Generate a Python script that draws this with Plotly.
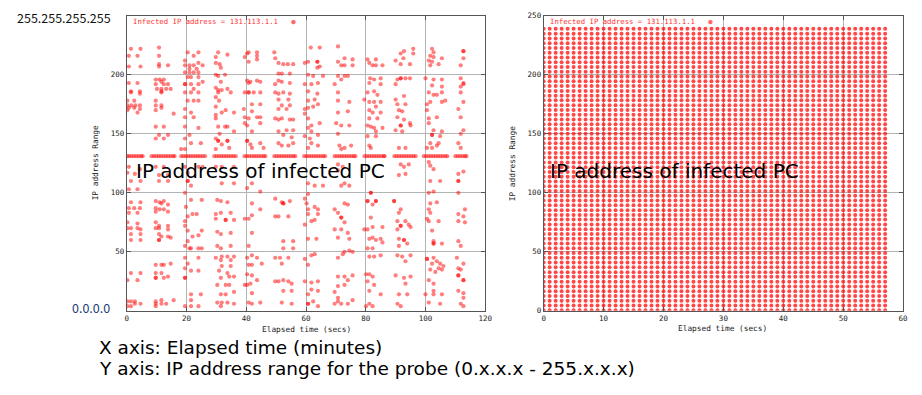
import plotly.graph_objects as go

# ---------------- data ----------------
INFECTED_OCTET = 131

# left panel: probes of a scanning worm, grouped in 10-second bursts (x = secs, y = first octet)
band1 = [(1.4,222),(4.6,222),(0.7,216),(3.6,216),(0.7,207),(4.6,207),(0.7,193),(3.6,193),(1.4,186),(4.4,186),
         (1.4,185),(4.4,184),(0.2,178),(2.5,178),(0.2,174),(1.5,174),(2.9,174),(4.4,174),(0.2,170),(0.7,172),
         (2.5,172),(4.4,171),(3.6,168),(0.7,122),(4.4,120),(0.2,117),(2.7,116),(1.4,110),(4.6,110),(0.7,103),
         (3.6,103),(1.4,92),(4.6,92),(0.7,87),(2.5,87),(4.4,87),(0.7,83),(3.6,83),(0.2,75),(3.6,74),(0.2,70),
         (1.4,70),(3.6,70),(4.6,69),(1.4,65),(4.6,65),(1.4,60),(4.6,60),(0.2,26),(1.4,32),(4.6,32),(3.6,26),
         (0.2,8),(1.4,8),(2.7,8),(4.6,6),(0.2,4),(1.4,4),(2.7,6)]
band2 = [(10.8,223),(10.8,216),(10.8,209),(13.8,208),(10.8,207),(9.7,196),(11,196),(12.4,196),(11.6,194),(9.7,192),
         (12.4,192),(13.8,192),(10.1,188),(11.6,188),(13.2,188),(14.7,188),(11.6,186),(11.6,185),(9.7,178),(11.6,174),
         (9.7,174),(11.6,172),(9.7,170),(15.7,167),(9.7,156),(12.4,156),(10.8,149),(13.8,149),(9.7,146),(12.4,146),
         (9.7,122),(12.4,122),(10.8,115),(13.8,115),(10.8,110),(13.8,110),(9.7,93),(11,92),(12.4,93),(11.6,91),
         (13.8,90),(9.7,87),(11,86),(12.4,86),(9.7,84),(13.8,84),(9.7,75),(10.8,72),(13.8,72),(9.7,70),(10.8,70),
         (13.8,69),(10.8,65),(11.6,63),(13.8,63),(14.7,62),(10.8,60),(10.8,60),(9.7,39),(11.6,39),(12.4,39),(14.7,40),
         (9.7,32),(11.6,32),(9.7,28),(9.7,28),(12.4,28),(13.8,29),(9.7,8),(11.6,9),(11.6,6),(9.7,6),(13.2,6),
         (15.7,9),(9.7,4)]
band3 = [(20.4,219),(22.4,216),(24,219),(19.5,212),(19.5,208),(21,208),(22.4,208),(24,210),(25.4,208),(21,205),
         (23.4,205),(19.5,202),(21,202),(22.4,202),(24,202),(20.4,198),(21.5,198),(24,198),(25.4,194),(19.5,192),
         (19.5,192),(21.5,192),(22.4,188),(24,192),(19.5,185),(21.5,185),(24,185),(20.4,178),(22.4,178),(24,178),
         (19.5,171),(21.5,168),(22.4,164),(19.5,164),(19.5,156),(24,155),(19.5,146),(21,149),(21.5,142),(24.8,142),
         (18.2,137),(19.5,137),(19.5,122),(20.4,117),(24,122),(25.4,122),(20.4,110),(20.4,110),(21.5,106),(19.5,100),
         (21.5,94),(25.1,94),(19.8,88),(22,82),(23.4,82),(20.4,80),(19.5,76),(19.5,72),(20.4,68),(22,63),(24,64),
         (25.1,68),(20.4,59),(19.5,55),(21.5,53),(24,53),(25.1,53),(21,53),(19.5,45),(24,45),(20.4,40),(19.5,36),
         (19.5,28),(19.5,28),(21.5,34),(24,34),(21.5,14),(24.8,14),(21.5,9),(19.5,4),(21.5,4),(24,4)]
band4 = [(30.6,219),(33.7,217),(29.8,215),(29.8,210),(31.1,209),(31.5,206),(29.8,200),(30.6,199),(32.9,200),(31.5,194),
         (29.8,189),(30.6,187),(31.8,187),(30.6,185),(33.7,188),(34.8,185),(29.8,181),(30.9,178),(29.8,173),(31.8,168),
         (33.1,170),(35.9,168),(29.8,166),(29.8,163),(30.6,156),(32.9,156),(35.9,152),(33.7,156),(31.1,150),(29.8,146),
         (30.6,144),(30.6,144),(33.7,144),(33.7,144),(31.8,141),(34.3,138),(29.8,137),(29.8,122),(31.8,122),(35.9,122),
         (31.8,108),(35.9,108),(30.3,94),(31.5,93),(33.7,92),(29.8,82),(31.5,83),(34.8,83),(29.8,78),(33.1,77),(33.1,77),
         (35.9,77),(30.3,67),(31.5,65),(34.8,66),(30.3,55),(31.5,53),(34.8,55),(29.8,45),(31.8,46),(33.7,46),(35.9,46),
         (31.5,43),(34.8,43),(31.8,38),(34.8,38),(30.9,34),(33.7,32),(31.5,28),(34.3,29),(35.9,29),(30.3,22),(33.1,22),
         (34.3,22),(35.9,16),(31.5,14),(33.1,14),(30.3,7),(31.8,7),(33.7,7),(35.9,6),(31.5,4)]
band5 = [(40.3,218),(40.8,219),(43.6,219),(43.6,216),(39.5,215),(43.6,213),(40.8,211),(40.3,195),(41.4,194),(43.6,195),
         (44.7,194),(40.8,193),(39.5,185),(40.8,185),(40.8,185),(42.5,185),(44.7,185),(41.9,175),(44.7,175),(39.2,171),
         (41.9,169),(39.5,164),(40.8,163),(43.6,164),(44.7,164),(39.5,159),(40.3,157),(41.9,152),(44.7,159),(40.3,144),
         (40.3,144),(41.4,141),(41.9,138),(44.7,142),(45.8,138),(41.9,108),(40.3,104),(44.7,101),(41.9,91),(39.5,78),
         (41.9,81),(40.8,78),(44.7,86),(41.9,66),(40.8,55),(41.9,47),(40.3,45),(43.6,45),(40.8,39),(41.9,39),(45.2,40),
         (40.3,31),(41.9,30),(40.3,22),(41.4,23),(43.6,26),(39.5,22),(41.9,15),(40.8,7),(41.9,6),(44.7,7)]
band6 = [(49.4,219),(49.7,214),(50.8,210),(52.4,209),(53.9,209),(55.7,209),(50.8,201),(51.9,201),(54.6,201),(50.8,195),
         (51.9,194),(49.7,192),(54.6,193),(49.7,185),(50.8,184),(52.4,185),(54.6,184),(50.8,179),(54.1,179),(51.9,174),
         (54.6,174),(50.8,171),(53.5,171),(49.7,163),(50.8,162),(51.9,163),(54.6,162),(55.7,162),(50.8,152),(53.5,153),
         (55.7,153),(52.4,149),(55.2,147),(50.8,142),(51.9,140),(54.1,140),(55.7,142),(49.7,95),(51.9,92),(52.4,91),
         (52.4,91),(54.6,93),(49.7,80),(50.8,80),(54.1,80),(52.4,59),(55.7,59),(52.4,53),(55.7,53),(49.7,45),(51.3,45),
         (54.1,45),(51.9,40),(49.7,25),(50.8,25),(52.4,26),(54.1,25),(55.2,23),(52.4,17),(55.2,17),(51.9,7),(55.2,6)]
band7 = [(61.6,223),(64.6,223),(59.6,210),(60.7,211),(63.8,211),(63.8,211),(64.6,207),(63.8,206),(60.7,200),(62.4,199),
         (65.7,199),(59.6,192),(61.8,192),(64,193),(60.7,186),(63.8,184),(60.7,178),(62.9,179),(59.6,171),(60.7,172),
         (62.4,173),(64,175),(59.6,167),(60.7,163),(64.6,159),(61.8,157),(60.7,155),(61.8,152),(59.6,148),(61.3,146),
         (64,149),(61.8,142),(60.7,138),(64,140),(60.7,108),(62.9,106),(65.7,106),(60.7,99),(59.6,95),(60.2,91),
         (62.9,88),(60.7,86),(64,86),(60.7,82),(64,82),(61.8,76),(59.6,73),(62.9,77),(60.7,61),(63.5,61),(59.6,44),
         (61.8,47),(62.9,48),(60.7,39),(59.6,25),(61.8,24),(64,25),(61.8,18),(64,17),(60.7,14),(60.7,6),(60.7,6),
         (64,4),(62.4,8)]
band8 = [(70.7,224),(70.7,211),(72.9,214),(71.8,208),(72.9,208),(75.6,213),(75.6,208),(70.7,199),(72.9,199),(74,199),
         (71.8,196),(69.6,192),(70.7,185),(70.7,178),(74.5,177),(70.7,168),(74,169),(70.1,159),(71.8,157),(74.5,157),
         (70.7,150),(71.2,140),(72.9,138),(75.1,140),(71.8,137),(70.7,124),(72.3,122),(70.7,119),(72.9,108),(71.8,106),
         (74.5,106),(72.9,91),(69.6,86),(70.7,83),(74,90),(71.8,79),(71.8,79),(69.6,69),(71.8,69),(70.7,62),(74,66),
         (72.9,75),(74.5,61),(70.7,45),(72.3,48),(72.9,50),(74.5,51),(75.6,50),(70.7,29),(72.9,29),(75.6,30),(74,26),
         (70.7,21),(72.9,22),(69.6,16),(70.7,11),(69.6,6),(70.7,8),(71.8,6),(74,6),(75.6,9)]
band9 = [(80.6,213),(81.2,210),(82.3,208),(83.4,213),(83.4,208),(85.6,208),(81.5,197),(82.8,196),(85,197),(81.2,193),
         (85,192),(82.8,186),(80.6,185),(83.9,183),(79.5,179),(81.2,177),(82.8,177),(85,177),(83.4,173),(81.2,170),
         (82.3,168),(85,168),(81.2,163),(83.9,163),(80.6,157),(81.7,156),(82.8,155),(85.6,155),(83.4,152),(80.6,148),
         (83.4,148),(81.2,140),(81.7,138),(81.7,100),(81.7,100),(80.6,93),(80.6,93),(83.4,93),(83.4,93),(82.3,90),
         (81.7,79),(80.6,69),(79.5,69),(82.3,71),(85.6,71),(81.2,61),(82.3,62),(83.4,60),(85,61),(80.6,53),(82.3,53),
         (85.6,58),(81.2,46),(82.8,46),(85,47),(81.2,31),(80.1,31),(82.3,29),(80.6,25),(82.8,22),(81.2,17),(85,14),
         (81.2,6),(82.3,4),(80.1,4)]
band10 = [(91.7,218),(92.8,220),(95.9,222),(95.9,218),(90,212),(91.7,209),(94.8,209),(92.6,214),(91.7,197),(91.7,197),
          (90.6,196),(93.3,197),(94.8,197),(90,192),(92.8,182),(90,179),(90.6,175),(93.3,175),(91.1,170),(92.2,169),
          (90.6,164),(92.8,162),(94.8,159),(91.7,157),(91.7,157),(95,157),(90,153),(92.2,152),(91.1,138),(93.3,138),
          (91.7,124),(92.8,122),(94.4,124),(93.3,116),(91.1,115),(89.5,93),(89.5,93),(91.7,86),(91.1,83),(90.6,76),
          (91.7,72),(91.7,72),(93.3,76),(94.4,73),(95,71),(90.6,69),(91.1,61),(92.8,60),(92.8,60),(93.9,57),(91.1,55),
          (90.6,47),(92.2,46),(95,47),(93.3,42),(90,30),(92.8,28),(95,29),(93.3,23),(91.1,14),(93.9,14),(91.7,4),(90.6,6)]
band11 = [(102.2,222),(102.7,219),(101.6,216),(102.7,215),(101.1,212),(102.2,211),(105.5,214),(104.4,209),(101.6,208),
          (100,197),(102.7,196),(105.5,196),(102.2,191),(105.5,190),(101.1,185),(102.7,183),(103.8,183),(105.5,185),
          (101.6,177),(100.5,175),(106.6,178),(105.5,177),(100.5,170),(103.8,164),(101.1,163),(101.1,159),(102.7,153),
          (105.5,152),(102.2,149),(102.2,149),(104.9,148),(101.6,142),(104.4,142),(100.5,138),(102.2,138),(103.8,140),
          (101.1,126),(101.6,123),(102.7,120),(101.6,110),(104.9,110),(102.7,101),(101.1,100),(101.6,91),(103.8,92),
          (101.1,86),(101.1,76),(100.5,78),(104.4,76),(102.2,68),(101.6,83),(102.7,59),(102.7,57),(102.7,57),(105.5,57),
          (100.5,44),(100.5,44),(102.7,45),(103.8,42),(104.9,40),(106,38),(102.2,40),(104.4,36),(101.6,35),(103.3,33),
          (105.5,35),(101.1,26),(102.7,23),(102.7,17),(105.5,14),(100,14),(102.7,14),(101.1,7),(104.9,6)]
band12 = [(112.7,220),(112.7,220),(112.7,214),(111.8,208),(111.8,197),(112.7,193),(111.8,190),(112.7,192),(111.8,185),
          (112.7,177),(111,171),(111.8,164),(111.8,150),(112.7,153),(111,142),(111.8,138),(111,116),(112.7,118),
          (111,110),(111,110),(111,100),(113.2,86),(111,82),(112.7,80),(111,76),(113.2,75),(111,59),(111.8,55),
          (110.5,45),(112.7,40),(111,36),(111.8,35),(111,30),(111,30),(112.7,26),(112.7,26),(111,17),(112.7,15),
          (112.7,11),(111.8,6),(112.7,4)]

# probes that hit the infected host's own /8 (131.x.x.x) within each burst
self_probe_times = [0.2, 0.8, 1.6, 2.4, 3.2, 4.0, 4.8, 5.3,
                    8.3, 9.1, 9.9, 10.7, 11.5, 12.3, 13.1, 13.9, 14.7, 15.5, 16.0,
                    18.2, 19.0, 19.8, 20.6, 21.4, 22.2, 23.0, 23.8, 24.6, 25.4, 26.2,
                    29.3, 30.1, 30.9, 31.7, 32.5, 33.3, 34.1, 34.9, 35.7, 36.5,
                    39.4, 40.2, 41.0, 41.8, 42.6, 43.4, 44.2, 45.0, 45.8, 46.4,
                    49.4, 50.2, 51.0, 51.8, 52.6, 53.4, 54.2, 55.0, 55.8, 56.4,
                    59.4, 60.2, 61.0, 61.8, 62.6, 63.4, 64.2, 65.0, 65.8, 66.4,
                    69.6, 70.4, 71.2, 72.0, 72.8, 73.6, 74.4, 75.2, 76.0, 76.5,
                    79.6, 80.4, 81.2, 82.0, 82.8, 83.6, 84.4, 85.2, 86.0, 86.3,
                    89.6, 90.4, 91.2, 92.0, 92.8, 93.6, 94.4, 95.2, 96.0, 96.7,
                    99.4, 100.2, 101.0, 101.8, 102.6, 103.4, 104.2, 105.0, 105.8, 106.6, 107.3,
                    110.0, 110.8, 111.6, 112.4, 113.2, 113.7]

# right panel: sequential sweep — one probe per second per octet step
sweep_times = [0, 1, 2, 3, 4, 5, 6, 7, 8, 9, 10, 11, 12, 13, 14, 15, 16, 17, 18, 19,
               20, 21, 22, 23, 24, 25, 26, 27, 28, 29, 30, 31, 32, 33, 34, 35, 36, 37, 38, 39,
               40, 41, 42, 43, 44, 45, 46, 47, 48, 49, 50, 51, 52, 53, 54, 55, 56, 57]
sweep_octets = [0.5, 4.5, 8.6, 12.6, 16.7, 20.7, 24.7, 28.8, 32.8, 36.9, 40.9, 44.9, 49.0, 53.0, 57.1,
                61.1, 65.1, 69.2, 73.2, 77.3, 81.3, 85.3, 89.4, 93.4, 97.5, 101.5, 105.5, 109.6, 113.6, 117.7,
                121.7, 125.7, 129.8, 133.8, 137.9, 141.9, 145.9, 150.0, 154.0, 158.1, 162.1, 166.1, 170.2, 174.2,
                178.3, 182.3, 186.3, 190.4, 194.4, 198.5, 202.5, 206.5, 210.6, 214.6, 218.7, 222.7, 226.7, 230.8,
                234.8, 238.9]

left_xticks = [0, 20, 40, 60, 80, 100, 120]
left_yticks = [50, 100, 150, 200]
right_xticks = [0, 10, 20, 30, 40, 50, 60]
right_yticks = [0, 50, 100, 150, 200, 250]

# ---------------- build ----------------
bands = [band1, band2, band3, band4, band5, band6, band7, band8, band9, band10, band11, band12]
lx = [p[0] for b in bands for p in b] + self_probe_times
ly = [p[1] for b in bands for p in b] + [INFECTED_OCTET] * len(self_probe_times)

rx = [t for t in sweep_times for _ in sweep_octets]
ry = [o for _ in sweep_times for o in sweep_octets]

W, H = 922, 395
MARK = dict(symbol="circle", size=4.2, color="rgba(255,0,0,0.5)", line=dict(width=0))

fig = go.Figure()
fig.add_trace(go.Scatter(x=lx, y=ly, mode="markers", marker=MARK, xaxis="x", yaxis="y",
                         showlegend=False, hoverinfo="skip"))
fig.add_trace(go.Scatter(x=rx, y=ry, mode="markers",
                         marker=dict(MARK, size=4, color="rgba(255,0,0,0.72)"),
                         xaxis="x2", yaxis="y2", showlegend=False, hoverinfo="skip"))

MONO = "DejaVu Sans Mono, Liberation Mono, monospace"
tickfont = dict(family=MONO, size=7.5, color="#222")
common = dict(showgrid=True, gridcolor="#b4b4b4", gridwidth=1, zeroline=False,
              showline=True, linecolor="#555", linewidth=1, mirror="ticks",
              ticks="inside", ticklen=4, tickcolor="#555", tickfont=tickfont)

ydom = [1 - 314 / H, 1 - 12 / H]
fig.update_layout(
    width=W, height=H, margin=dict(l=0, r=0, t=0, b=0),
    paper_bgcolor="white", plot_bgcolor="white",
    xaxis=dict(common, domain=[126 / W, 488 / W], range=[0, 120], tickvals=left_xticks, anchor="y"),
    yaxis=dict(common, domain=ydom, range=[0, 250], tickvals=left_yticks, anchor="x"),
    xaxis2=dict(common, domain=[547 / W, 910 / W], range=[0, 60], tickvals=right_xticks, anchor="y2"),
    yaxis2=dict(common, domain=ydom, range=[0, 250], tickvals=right_yticks, anchor="x2"),
)

small = dict(family=MONO, size=7.8, color="#222")
key = ('Infected IP address = 131.113.1.1&nbsp;&nbsp;&nbsp;'
       '<span style="color:rgba(255,60,60,0.8)">●</span>')
keyfont = dict(family=MONO, size=7.3, color="#ff3030")
BIG = "DejaVu Sans"
ann = [
    dict(x=130 / W, y=1 - 18 / H, text=key, font=keyfont, xanchor="left", yanchor="middle"),
    dict(x=551 / W, y=1 - 18 / H, text=key, font=keyfont, xanchor="left", yanchor="middle"),
    dict(x=307 / W, y=1 - 333 / H, text="Elapsed time (secs)", font=small, xanchor="center", yanchor="middle"),
    dict(x=728 / W, y=1 - 332 / H, text="Elapsed time (secs)", font=small, xanchor="center", yanchor="middle"),
    dict(x=94 / W, y=1 - 163 / H, text="IP address Range", font=small, textangle=-90, xanchor="center", yanchor="middle"),
    dict(x=515 / W, y=1 - 163 / H, text="IP address Range", font=small, textangle=-90, xanchor="center", yanchor="middle"),
    dict(x=13 / W, y=1 - 14 / H, text="255.255.255.255",
         font=dict(family="Noto Sans CJK JP", size=12.5, color="#111"), xanchor="left", yanchor="middle"),
    dict(x=111 / W, y=1 - 311 / H, text="0.0.0.0",
         font=dict(family="Noto Sans CJK JP", size=12.5, color="#1c3c78"), xanchor="right", yanchor="middle"),
    dict(x=133 / W, y=1 - 171 / H, text="IP address of infected PC",
         font=dict(family=BIG, size=20, color="#000"), xanchor="left", yanchor="middle"),
    dict(x=551 / W, y=1 - 171 / H, text="IP address of infected PC",
         font=dict(family=BIG, size=20, color="#000"), xanchor="left", yanchor="middle"),
    dict(x=96 / W, y=1 - 352 / H, text="X axis: Elapsed time (minutes)",
         font=dict(family=BIG, size=18.5, color="#000"), xanchor="left", yanchor="middle"),
    dict(x=96 / W, y=1 - 373 / H, text="Y axis: IP address range for the probe (0.x.x.x - 255.x.x.x)",
         font=dict(family=BIG, size=18.5, color="#000"), xanchor="left", yanchor="middle"),
]
for a in ann:
    a.update(xref="paper", yref="paper", showarrow=False)
fig.update_layout(annotations=ann)

fig.write_html("out.html", config={"displayModeBar": False},
               post_script="document.body.style.margin='0px';")
